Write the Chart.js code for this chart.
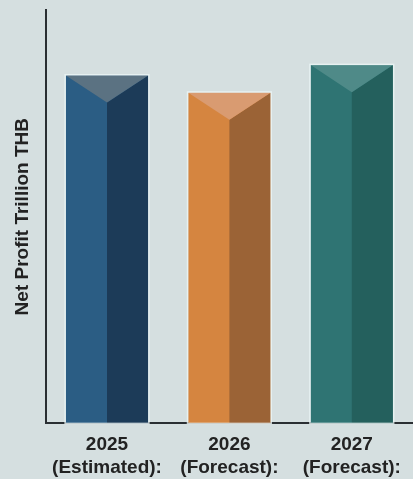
<!DOCTYPE html>
<html>
<head>
<meta charset="utf-8">
<script src="https://cdn.jsdelivr.net/npm/chart.js@4/dist/chart.umd.min.js"></script>
<style>
  html, body { margin: 0; padding: 0; background: #d5dfe0; }
  #wrap { width: 413px; height: 479px; position: relative; }
</style>
</head>
<body>
<div id="wrap"><canvas id="c"></canvas></div>
<script>
const categories = [["2025", "(Estimated):"], ["2026", "(Forecast):"], ["2027", "(Forecast):"]];
const netProfit = [1.01, 0.96, 1.04];
const yAxisMax = 1.2;
const axisTitle = "Net Profit Trillion THB";
const faceLeft = ["#2b5d84", "#d58540", "#2f7473"];
const faceRight = ["#1c3b58", "#9b6336", "#24605d"];
const faceTop = ["#5b7282", "#d99b71", "#4f8a88"];

const prismPlugin = {
  id: "prism",
  afterDatasetsDraw(chart) {
    const ctx = chart.ctx;
    const meta = chart.getDatasetMeta(0);
    meta.data.forEach((bar, i) => {
      const p = bar.getProps(["x", "y", "width", "base"], true);
      const l = p.x - p.width / 2, r = p.x + p.width / 2;
      const top = p.y, base = p.base;
      const d = p.width * 0.33;
      ctx.save();
      ctx.fillStyle = faceRight[i];
      ctx.beginPath();
      ctx.moveTo(p.x, top + d);
      ctx.lineTo(r, top);
      ctx.lineTo(r, base);
      ctx.lineTo(p.x, base);
      ctx.closePath();
      ctx.fill();
      ctx.fillStyle = faceTop[i];
      ctx.beginPath();
      ctx.moveTo(l, top);
      ctx.lineTo(r, top);
      ctx.lineTo(p.x, top + d);
      ctx.closePath();
      ctx.fill();
      ctx.strokeStyle = "rgba(235,245,245,0.8)";
      ctx.lineWidth = 1.5;
      ctx.strokeRect(l - 0.75, top - 0.75, p.width + 1.5, base - top + 0.75);
      ctx.restore();
    });
  }
};

new Chart(document.getElementById("c"), {
  type: "bar",
  data: {
    labels: categories,
    datasets: [{
      data: netProfit,
      backgroundColor: faceLeft,
      borderWidth: 0,
      barPercentage: 0.8,
      categoryPercentage: 0.84
    }]
  },
  options: {
    responsive: true,
    maintainAspectRatio: false,
    animation: false,
    layout: { padding: { top: 10, left: 11, right: 0, bottom: -10 } },
    plugins: { legend: { display: false }, tooltip: { enabled: false } },
    scales: {
      x: {
        grid: { display: false, drawTicks: false },
        border: { display: true, color: "#2a2f33", width: 2 },
        ticks: {
          color: "#222",
          font: { family: "Liberation Sans", size: 19, weight: "bold", lineHeight: 1.2 },
          padding: 10,
          maxRotation: 0,
          autoSkip: false
        }
      },
      y: {
        min: 0,
        max: yAxisMax,
        grid: { display: false, drawTicks: false },
        border: { display: true, color: "#2a2f33", width: 2 },
        ticks: { display: false },
        title: {
          display: true,
          text: axisTitle,
          color: "#222",
          font: { family: "Liberation Sans", size: 19, weight: "bold", lineHeight: 1.2 },
          padding: { top: 0, bottom: 12 }
        }
      }
    }
  },
  plugins: [prismPlugin]
});
</script>
</body>
</html>
